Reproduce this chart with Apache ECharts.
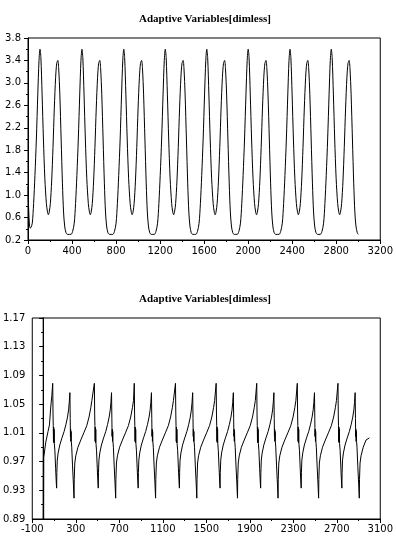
<!DOCTYPE html>
<html><head><meta charset="utf-8">
<script src="https://cdn.jsdelivr.net/npm/echarts@6/dist/echarts.min.js"></script>
<style>html,body{margin:0;padding:0;background:#fff}#c{width:396px;height:550px}</style>
</head><body><div id="c"></div>
<script>
const chartTitle = 'Adaptive Variables[dimless]';

// Tick labels
const topXTicks = [0, 400, 800, 1200, 1600, 2000, 2400, 2800, 3200];
const topYTicks = [0.2, 0.6, 1.0, 1.4, 1.8, 2.2, 2.6, 3.0, 3.4, 3.8];
const botXTicks = [-100, 300, 700, 1100, 1500, 1900, 2300, 2700, 3100];
const botYTicks = [0.89, 0.93, 0.97, 1.01, 1.05, 1.09, 1.13, 1.17];

// Top panel: time and value
const topT = [
  0,6,14,20,28,39,51,63,76,89,100,109,117,128,140,153,167,177,185,193,203,215,227,239,251,261,271,279,289,301,313,323,333,345,359,
  390,405,420,432,444,457,470,481,490,498,509,521,534,548,558,566,574,584,596,608,620,632,642,652,660,670,682,694,704,714,726,740,
  770,785,800,812,824,837,850,861,870,878,889,901,914,928,938,946,954,964,976,988,1000,1012,1022,1032,1040,1050,1062,1074,1084,1094,1106,1120,
  1147,1162,1177,1189,1201,1214,1227,1238,1247,1255,1266,1278,1291,1305,1315,1323,1331,1341,1353,1365,1377,1389,1399,1409,1417,1427,1439,1451,1461,1471,1483,1497,
  1524,1539,1554,1566,1578,1591,1604,1615,1624,1632,1643,1655,1668,1682,1692,1700,1708,1718,1730,1742,1754,1766,1776,1786,1794,1804,1816,1828,1838,1848,1860,1874,
  1900,1915,1930,1942,1954,1967,1980,1991,2000,2008,2019,2031,2044,2058,2068,2076,2084,2094,2106,2118,2130,2142,2152,2162,2170,2180,2192,2204,2214,2224,2236,2250,
  2280,2295,2310,2322,2334,2347,2360,2371,2380,2388,2399,2411,2424,2438,2448,2456,2464,2474,2486,2498,2510,2522,2532,2542,2550,2560,2572,2584,2594,2604,2616,2630,
  2655,2670,2685,2697,2709,2722,2735,2746,2755,2763,2774,2786,2799,2813,2823,2831,2839,2849,2861,2873,2885,2897,2907,2917,2925,2935,2947,2959,2969,2979,2991,3000
];
const topV = [
  1.15,0.75,0.45,0.41,0.43,0.5,0.85,1.35,2.0,2.8,3.4,3.6,3.45,2.8,2.0,1.3,0.85,0.7,0.65,0.7,0.85,1.25,1.85,2.55,3.1,3.35,3.4,3.25,2.8,2.0,1.2,0.7,0.45,0.33,0.30,
  0.30,0.35,0.5,0.85,1.35,2.0,2.8,3.4,3.6,3.45,2.8,2.0,1.3,0.85,0.7,0.65,0.7,0.85,1.25,1.85,2.55,3.1,3.35,3.4,3.25,2.8,2.0,1.2,0.7,0.45,0.33,0.30,
  0.30,0.35,0.5,0.85,1.35,2.0,2.8,3.4,3.6,3.45,2.8,2.0,1.3,0.85,0.7,0.65,0.7,0.85,1.25,1.85,2.55,3.1,3.35,3.4,3.25,2.8,2.0,1.2,0.7,0.45,0.33,0.30,
  0.30,0.35,0.5,0.85,1.35,2.0,2.8,3.4,3.6,3.45,2.8,2.0,1.3,0.85,0.7,0.65,0.7,0.85,1.25,1.85,2.55,3.1,3.35,3.4,3.25,2.8,2.0,1.2,0.7,0.45,0.33,0.30,
  0.30,0.35,0.5,0.85,1.35,2.0,2.8,3.4,3.6,3.45,2.8,2.0,1.3,0.85,0.7,0.65,0.7,0.85,1.25,1.85,2.55,3.1,3.35,3.4,3.25,2.8,2.0,1.2,0.7,0.45,0.33,0.30,
  0.30,0.35,0.5,0.85,1.35,2.0,2.8,3.4,3.6,3.45,2.8,2.0,1.3,0.85,0.7,0.65,0.7,0.85,1.25,1.85,2.55,3.1,3.35,3.4,3.25,2.8,2.0,1.2,0.7,0.45,0.33,0.30,
  0.30,0.35,0.5,0.85,1.35,2.0,2.8,3.4,3.6,3.45,2.8,2.0,1.3,0.85,0.7,0.65,0.7,0.85,1.25,1.85,2.55,3.1,3.35,3.4,3.25,2.8,2.0,1.2,0.7,0.45,0.33,0.30,
  0.30,0.35,0.5,0.85,1.35,2.0,2.8,3.4,3.6,3.45,2.8,2.0,1.3,0.85,0.7,0.65,0.7,0.85,1.25,1.85,2.55,3.1,3.35,3.4,3.25,2.8,2.0,1.2,0.7,0.45,0.33,0.30
];

// Bottom panel: time and value
const botT = [
  0,1,3,4,6,23,45,58,70,80,
  88,91,93,95,97,99,101,103,108,115,121,124,126,130,138,153,173,193,210,224,234,240,246,249,251,253,255,257,259,263,270,278,284,286,291,300,320,346,374,401,422,438,448,
  471,474,476,478,480,482,484,486,491,498,504,507,509,513,521,536,556,576,593,607,617,623,629,632,634,636,638,640,642,646,653,661,667,669,674,683,703,729,757,784,805,821,831,
  838,841,843,845,847,849,851,853,858,865,871,874,876,880,888,903,923,943,960,974,984,990,996,999,1001,1003,1005,1007,1009,1013,1020,1028,1034,1036,1041,1050,1070,1096,1124,1151,1172,1188,1198,
  1217,1220,1222,1224,1226,1228,1230,1232,1237,1244,1250,1253,1255,1259,1267,1282,1302,1322,1339,1353,1363,1369,1375,1378,1380,1382,1384,1386,1388,1392,1399,1407,1413,1415,1420,1429,1449,1475,1503,1530,1551,1567,1577,
  1591,1594,1596,1598,1600,1602,1604,1606,1611,1618,1624,1627,1629,1633,1641,1656,1676,1696,1713,1727,1737,1743,1749,1752,1754,1756,1758,1760,1762,1766,1773,1781,1787,1789,1794,1803,1823,1849,1877,1904,1925,1941,1951,
  1964,1967,1969,1971,1973,1975,1977,1979,1984,1991,1997,2000,2002,2006,2014,2029,2049,2069,2086,2100,2110,2116,2122,2125,2127,2129,2131,2133,2135,2139,2146,2154,2160,2162,2167,2176,2196,2222,2250,2277,2298,2314,2324,
  2337,2340,2342,2344,2346,2348,2350,2352,2357,2364,2370,2373,2375,2379,2387,2402,2422,2442,2459,2473,2483,2489,2495,2498,2500,2502,2504,2506,2508,2512,2519,2527,2533,2535,2540,2549,2569,2595,2623,2650,2671,2687,2697,
  2711,2714,2716,2718,2720,2722,2724,2726,2731,2738,2744,2747,2749,2753,2761,2776,2796,2816,2833,2847,2857,2863,2869,2872,2874,2876,2878,2880,2882,2886,2893,2901,2907,2909,2914,2923,2943,2969,3000
];
const botV = [
  1.25,0.86,0.975,0.86,0.976,0.996,1.012,1.021,1.046,1.062,
  1.079,1.035,1.020,0.998,1.018,0.996,1.015,0.995,0.985,0.960,0.940,0.933,0.955,0.972,0.982,0.993,1.003,1.012,1.022,1.032,1.042,1.052,1.066,1.030,1.005,1.015,0.998,1.012,0.998,0.990,0.965,0.940,0.919,0.945,0.968,0.978,0.990,1.000,1.010,1.020,1.032,1.045,1.055,
  1.079,1.035,1.020,0.998,1.018,0.996,1.015,0.995,0.985,0.960,0.940,0.933,0.955,0.972,0.982,0.993,1.003,1.012,1.022,1.032,1.042,1.052,1.066,1.030,1.005,1.015,0.998,1.012,0.998,0.990,0.965,0.940,0.919,0.945,0.968,0.978,0.990,1.000,1.010,1.020,1.032,1.045,1.055,
  1.079,1.035,1.020,0.998,1.018,0.996,1.015,0.995,0.985,0.960,0.940,0.933,0.955,0.972,0.982,0.993,1.003,1.012,1.022,1.032,1.042,1.052,1.066,1.030,1.005,1.015,0.998,1.012,0.998,0.990,0.965,0.940,0.919,0.945,0.968,0.978,0.990,1.000,1.010,1.020,1.032,1.045,1.055,
  1.079,1.035,1.020,0.998,1.018,0.996,1.015,0.995,0.985,0.960,0.940,0.933,0.955,0.972,0.982,0.993,1.003,1.012,1.022,1.032,1.042,1.052,1.066,1.030,1.005,1.015,0.998,1.012,0.998,0.990,0.965,0.940,0.919,0.945,0.968,0.978,0.990,1.000,1.010,1.020,1.032,1.045,1.055,
  1.079,1.035,1.020,0.998,1.018,0.996,1.015,0.995,0.985,0.960,0.940,0.933,0.955,0.972,0.982,0.993,1.003,1.012,1.022,1.032,1.042,1.052,1.066,1.030,1.005,1.015,0.998,1.012,0.998,0.990,0.965,0.940,0.919,0.945,0.968,0.978,0.990,1.000,1.010,1.020,1.032,1.045,1.055,
  1.079,1.035,1.020,0.998,1.018,0.996,1.015,0.995,0.985,0.960,0.940,0.933,0.955,0.972,0.982,0.993,1.003,1.012,1.022,1.032,1.042,1.052,1.066,1.030,1.005,1.015,0.998,1.012,0.998,0.990,0.965,0.940,0.919,0.945,0.968,0.978,0.990,1.000,1.010,1.020,1.032,1.045,1.055,
  1.079,1.035,1.020,0.998,1.018,0.996,1.015,0.995,0.985,0.960,0.940,0.933,0.955,0.972,0.982,0.993,1.003,1.012,1.022,1.032,1.042,1.052,1.066,1.030,1.005,1.015,0.998,1.012,0.998,0.990,0.965,0.940,0.919,0.945,0.968,0.978,0.990,1.000,1.010,1.020,1.032,1.045,1.055,
  1.079,1.035,1.020,0.998,1.018,0.996,1.015,0.995,0.985,0.960,0.940,0.933,0.955,0.972,0.982,0.993,1.003,1.012,1.022,1.032,1.042,1.052,1.066,1.030,1.005,1.015,0.998,1.012,0.998,0.990,0.965,0.940,0.919,0.945,0.968,0.978,0.990,1.000,1.003
];

const pair = (ts, vs) => ts.map((t, i) => [t, vs[i]]);
const lab = { fontFamily: 'DejaVu Sans', fontSize: 10, color: '#000' };
const axLine = { show: true, lineStyle: { color: '#000', width: 1 } };
const tick = { show: true, inside: false, length: 4, lineStyle: { color: '#000' } };
const minor = { show: true, splitNumber: 2, length: 2, lineStyle: { color: '#000' } };

function xAx(ticks, grid, margin) {
  return { type: 'value', gridIndex: grid, min: ticks[0], max: ticks[ticks.length - 1],
    interval: ticks[1] - ticks[0], axisLine: axLine, axisTick: tick, minorTick: minor,
    splitLine: { show: false },
    axisLabel: Object.assign({ margin: margin, showMinLabel: true, showMaxLabel: true, hideOverlap: false,
      formatter: v => String(Math.round(v)) }, lab) };
}
function yAx(ticks, grid, dec) {
  return { type: 'value', gridIndex: grid, min: ticks[0], max: ticks[ticks.length - 1],
    interval: +(ticks[1] - ticks[0]).toFixed(4), axisLine: axLine, axisTick: tick, minorTick: minor,
    splitLine: { show: false },
    axisLabel: Object.assign({ margin: 7, showMinLabel: true, showMaxLabel: true, hideOverlap: false,
      formatter: v => (+v).toFixed(dec) }, lab) };
}
const titleStyle = { fontFamily: 'Liberation Serif', fontSize: 11, fontWeight: 'bold', color: '#000' };

const chart = echarts.init(document.getElementById('c'), null, { renderer: 'canvas' });
chart.setOption({
  backgroundColor: '#fff',
  animation: false,
  title: [
    { text: chartTitle, left: 205, textAlign: 'center', top: 14, textStyle: titleStyle, padding: 0 },
    { text: chartTitle, left: 205, textAlign: 'center', top: 294, textStyle: titleStyle, padding: 0 }
  ],
  grid: [
    { left: 28, right: 14, top: 38, height: 202, show: true, borderColor: '#000', borderWidth: 1, backgroundColor: 'transparent' },
    { left: 28, right: 11, top: 318, height: 201, show: true, borderColor: '#000', borderWidth: 1, backgroundColor: 'transparent' }
  ],
  xAxis: [xAx(topXTicks, 0, 6), xAx(botXTicks, 1, 5)],
  yAxis: [yAx(topYTicks, 0, 1), yAx(botYTicks, 1, 2)],
  series: [
    { type: 'line', xAxisIndex: 0, yAxisIndex: 0, data: pair(topT, topV), showSymbol: false,
      smooth: 0.3, clip: true, lineStyle: { color: '#000', width: 1 } },
    { type: 'line', xAxisIndex: 1, yAxisIndex: 1, data: pair(botT, botV), showSymbol: false,
      smooth: false, clip: true, lineStyle: { color: '#000', width: 1 } }
  ]
});
</script>
</body></html>
